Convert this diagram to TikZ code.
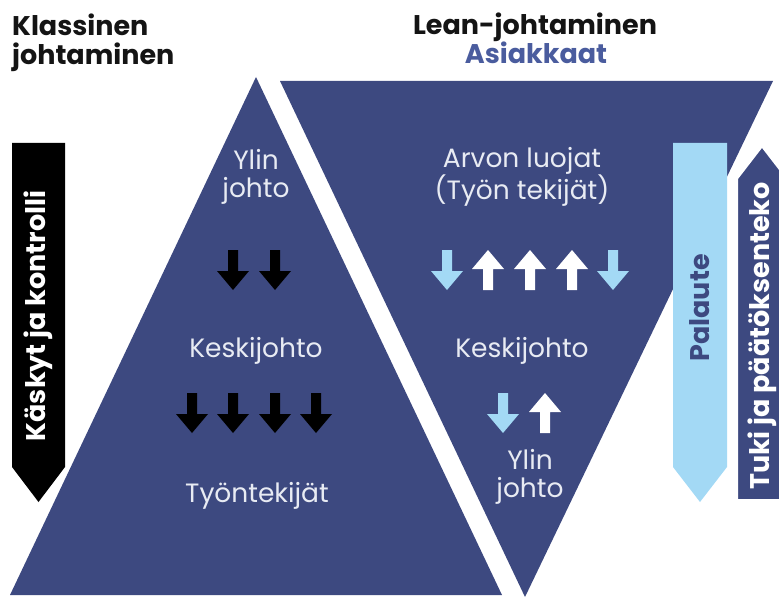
\documentclass[tikz,border=0pt]{standalone}
\usepackage{fontspec}
\setmainfont{Poppins}
\usetikzlibrary{positioning}

\definecolor{leannavy}{RGB}{61,73,128}
\definecolor{leansky}{RGB}{163,217,245}
\definecolor{leantitle}{RGB}{74,92,158}
\definecolor{leanink}{RGB}{232,235,243}

\begin{document}
\begin{tikzpicture}[x=1pt,y=-1pt]
 \tikzset{title/.style={font=\bfseries\fontsize{27}{29}\selectfont, text=black!92, inner sep=0pt}}
 \tikzset{level/.style={font=\fontsize{26.5}{28}\selectfont, text=leanink, align=center, inner sep=0pt}}
 \tikzset{bandtext/.style={font=\bfseries\fontsize{27}{29}\selectfont, rotate=90, inner sep=0pt}}
 \tikzset{pics/downarrow/.style={code={
    \fill[#1] (-5,-20) -- (5,-20) -- (5,1) -- (16,1) -- (0,20) -- (-16,1) -- (-5,1) -- cycle;}}}
 \tikzset{pics/uparrow/.style={code={
    \fill[#1] (-5,20) -- (5,20) -- (5,-1) -- (16,-1) -- (0,-20) -- (-16,-1) -- (-5,-1) -- cycle;}}}

 \useasboundingbox (0,0) rectangle (779,599);
 \clip (0,0) rectangle (779,599);

 % the two pyramids
 \fill[leannavy] (10,595) -- (256,77) -- (502,595) -- cycle;
 \fill[leannavy] (280,81) -- (773,81) -- (525,597) -- cycle;

 % side bands
 \fill[black] (12,143) -- (65,143) -- (65,467) -- (38.5,502) -- (12,467) -- cycle;
 \fill[leansky] (673,143) -- (727,143) -- (727,467) -- (700,502) -- (673,467) -- cycle;
 \filldraw[fill=leannavy, draw=white, line width=6pt]
    (735,502) -- (735,178) -- (762,143) -- (789,178) -- (789,502) -- cycle;

 % headings
 \node[title, anchor=north west, align=left] (klassinen) at (12,14) {Klassinen\\johtaminen};
 \node[title, anchor=base] (lean) at (535,35) {Lean-johtaminen};
 \node[title, anchor=base, text=leantitle] (asiakkaat) at (536,64) {Asiakkaat};

 % classic pyramid
 \node[level] (ylin) at (256,177) {Ylin\\johto};
 \pic at (233,270) {downarrow=black};
 \pic at (275,270) {downarrow=black};
 \node[level, anchor=base] (keski) at (256,357) {Keskijohto};
 \pic at (192,413) {downarrow=black};
 \pic at (233,413) {downarrow=black};
 \pic at (275,413) {downarrow=black};
 \pic at (316,413) {downarrow=black};
 \node[level, anchor=base] (tyontekijat) at (257,502) {Työntekijät};

 % lean pyramid
 \node[level] (arvon) at (522,177) {Arvon luojat\\(Työn tekijät)};
 \pic at (447,270) {downarrow=leansky};
 \pic at (488,270) {uparrow=white};
 \pic at (530,270) {uparrow=white};
 \pic at (572,270) {uparrow=white};
 \pic at (613,270) {downarrow=leansky};
 \node[level, anchor=base] (keski2) at (522,357) {Keskijohto};
 \pic at (503,413) {downarrow=leansky};
 \pic at (545,413) {uparrow=white};
 \node[level] (ylin2) at (530,477) {Ylin\\johto};

 % band labels
 \node[bandtext, text=white] (kaskyt) at (38.5,316) {Käskyt ja kontrolli};
 \node[bandtext, text=leannavy] (palaute) at (700,308) {Palaute};
 \node[bandtext, text=white] (tuki) at (762,336) {Tuki ja päätöksenteko};
\end{tikzpicture}
\end{document}
